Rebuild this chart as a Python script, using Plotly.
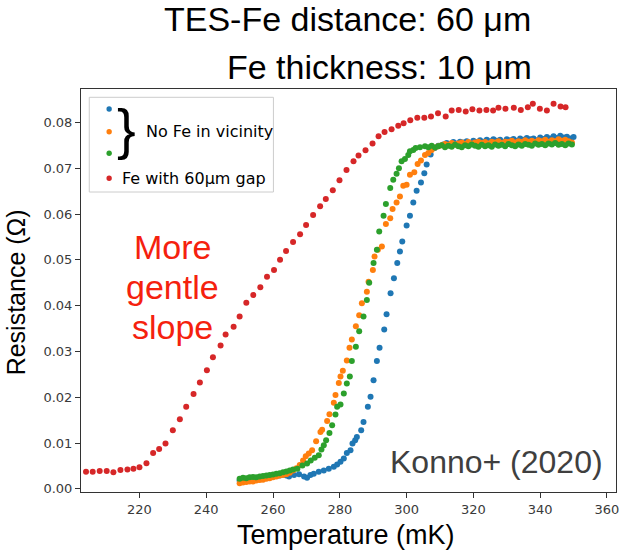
import plotly.graph_objects as go

# ---------------- data (Temperature mK, Resistance Ohm) ----------------
blue_pts = [
    (250, 0.0018), (251, 0.0019), (252, 0.0021), (253, 0.0020), (254, 0.0022), (255, 0.0023),
    (256, 0.0022), (257, 0.0024), (258, 0.0025), (259, 0.0026), (260, 0.0027), (261, 0.0028),
    (262, 0.0029), (263, 0.0030), (264, 0.0029), (264.8, 0.0027), (266.3, 0.0030), (267.8, 0.0032),
    (269.3, 0.0027), (270.2, 0.0024), (271.2, 0.0030), (272.2, 0.0033), (273.7, 0.0037), (275.2, 0.0040),
    (276.7, 0.0044), (278.2, 0.0048), (279.2, 0.0053), (280.2, 0.0059), (281.2, 0.0066), (282.1, 0.0078),
    (283.2, 0.0084), (283.8, 0.0099), (284.6, 0.0106), (285.1, 0.0113), (286.4, 0.0128), (287.1, 0.0146),
    (288.4, 0.0179), (289.2, 0.0201), (290.1, 0.0237), (291.1, 0.0279), (291.9, 0.0308), (293.3, 0.0348),
    (294.0, 0.0381), (295.2, 0.0427), (296.2, 0.0460), (297.2, 0.0493), (298.0, 0.0518), (298.7, 0.0540),
    (300.0, 0.0575), (301.0, 0.0596), (302.0, 0.0625), (303.0, 0.0651), (304.3, 0.0669), (305.3, 0.0689),
    (306.0, 0.0708), (307.2, 0.0730), (308.4, 0.0744), (309.5, 0.0749),
    (311, 0.0752), (312, 0.0755), (313, 0.0753), (314, 0.0757), (315, 0.0754), (316, 0.0758),
    (317, 0.0756), (318, 0.0759), (319, 0.0755), (320, 0.0760), (321, 0.0757), (322, 0.0761),
    (323, 0.0758), (324, 0.0762), (325, 0.0759), (326, 0.0763), (327, 0.0760), (328, 0.0762),
    (329, 0.0758), (330, 0.0763), (331, 0.0761), (332, 0.0764), (333, 0.0760), (334, 0.0765),
    (335, 0.0762), (336, 0.0766), (337, 0.0763), (338, 0.0765), (339, 0.0761), (340, 0.0767),
    (341, 0.0764), (342, 0.0768), (343, 0.0765), (344, 0.0770), (345, 0.0766), (346, 0.0771),
    (347, 0.0767), (348, 0.0769), (349, 0.0765), (350, 0.0768),
]

orange_pts = [
    (250, 0.0012), (251, 0.0014), (252, 0.0015), (253, 0.0016), (254, 0.0016), (255, 0.0018),
    (256, 0.0019), (257, 0.0020), (258, 0.0022), (259, 0.0023), (260, 0.0025), (261, 0.0027),
    (262, 0.0029), (263, 0.0030), (264, 0.0032), (265, 0.0035), (266, 0.0040), (267, 0.0045),
    (268, 0.0052), (269, 0.0062), (269.8, 0.0071), (270.7, 0.0077), (271.7, 0.0084), (272.9, 0.0104),
    (274.2, 0.0124), (274.7, 0.0129), (276.2, 0.0148), (276.9, 0.0163), (278.2, 0.0188), (278.7, 0.0205),
    (279.7, 0.0231), (280.2, 0.0245), (280.9, 0.0258), (282.1, 0.0280), (282.9, 0.0308), (283.6, 0.0326),
    (284.8, 0.0355), (285.8, 0.0379), (286.6, 0.0405), (288.1, 0.0430), (288.6, 0.0452), (289.9, 0.0478),
    (290.4, 0.0507), (291.4, 0.0522), (292.6, 0.0529), (293.8, 0.0578), (295.1, 0.0591), (295.8, 0.0611),
    (297.0, 0.0625), (298.0, 0.0638), (299.0, 0.0662), (300.0, 0.0664), (301.0, 0.0686), (302.3, 0.0691),
    (303.3, 0.0709), (304.3, 0.0717), (305.5, 0.0729), (306.5, 0.0733), (307.5, 0.0740), (308.5, 0.0745),
    (309.5, 0.0748),
    (310.5, 0.0750), (311.5, 0.0753), (312.5, 0.0751), (313.5, 0.0755), (314.5, 0.0752), (315.5, 0.0754),
    (316.5, 0.0756), (317.5, 0.0753), (318.5, 0.0757), (319.5, 0.0754), (320.5, 0.0756), (321.5, 0.0758),
    (322.5, 0.0755), (323.5, 0.0757), (324.5, 0.0754), (325.5, 0.0758), (326.5, 0.0756), (327.5, 0.0759),
    (328.5, 0.0755), (329.5, 0.0758), (330.5, 0.0757), (331.5, 0.0760), (332.5, 0.0756), (333.5, 0.0759),
    (334.5, 0.0757), (335.5, 0.0761), (336.5, 0.0758), (337.5, 0.0760), (338.5, 0.0757), (339.5, 0.0761),
    (340.5, 0.0759), (341.5, 0.0762), (342.5, 0.0758), (343.5, 0.0761), (344.5, 0.0759), (345.5, 0.0763),
    (346.5, 0.0760), (347.5, 0.0762), (348.5, 0.0759), (349.5, 0.0756),
]

green_pts = [
    (250, 0.0022), (251, 0.0024), (252, 0.0023), (253, 0.0025), (254, 0.0026), (255, 0.0025),
    (256, 0.0027), (257, 0.0028), (258, 0.0029), (259, 0.0030), (260, 0.0031), (261, 0.0033),
    (262, 0.0034), (263, 0.0036), (264, 0.0038), (265, 0.0040), (266, 0.0042),
    (267.3, 0.0044), (268.8, 0.0051), (270.2, 0.0055), (271.3, 0.0062), (272.5, 0.0068), (273.7, 0.0073),
    (274.5, 0.0086), (275.2, 0.0095), (275.9, 0.0106), (276.9, 0.0122), (277.7, 0.0139), (278.7, 0.0162),
    (279.2, 0.0179), (280.2, 0.0184), (281.2, 0.0208), (282.1, 0.0230), (283.0, 0.0245), (283.6, 0.0279),
    (284.8, 0.0310), (285.8, 0.0344), (287.1, 0.0376), (288.1, 0.0412), (288.8, 0.0450), (290.1, 0.0493),
    (291.1, 0.0522), (291.8, 0.0562), (293.1, 0.0596), (293.8, 0.0622), (295.1, 0.0657), (296.0, 0.0675),
    (297.0, 0.0688), (297.7, 0.0700), (298.5, 0.0715), (299.5, 0.0720), (300.5, 0.0729), (301.0, 0.0737),
    (302.0, 0.0740), (302.7, 0.0744), (304.0, 0.0746), (305.5, 0.0748),
    (306.5, 0.0746), (307.5, 0.0749), (308.5, 0.0745), (309.5, 0.0748), (310.5, 0.0750), (311.5, 0.0746),
    (312.5, 0.0749), (313.5, 0.0747), (314.5, 0.0751), (315.5, 0.0748), (316.5, 0.0746), (317.5, 0.0750),
    (318.5, 0.0748), (319.5, 0.0752), (320.5, 0.0749), (321.5, 0.0747), (322.5, 0.0751), (323.5, 0.0748),
    (324.5, 0.0750), (325.5, 0.0747), (326.5, 0.0752), (327.5, 0.0749), (328.5, 0.0751), (329.5, 0.0748),
    (330.5, 0.0753), (331.5, 0.0750), (332.5, 0.0748), (333.5, 0.0752), (334.5, 0.0749), (335.5, 0.0753),
    (336.5, 0.0751), (337.5, 0.0749), (338.5, 0.0754), (339.5, 0.0751), (340.5, 0.0753), (341.5, 0.0750),
    (342.5, 0.0754), (343.5, 0.0752), (344.5, 0.0755), (345.5, 0.0751), (346.5, 0.0753), (347.5, 0.0750),
    (348.5, 0.0754), (349.5, 0.0752),
]

red_pts = [
    (204.0, 0.0037), (206.0, 0.0037), (208.1, 0.0039), (210.2, 0.0039), (212.2, 0.0036), (214.3, 0.0041),
    (216.4, 0.0042), (218.2, 0.0044), (220.0, 0.0047), (222.1, 0.0056), (224.1, 0.0078), (225.9, 0.0087),
    (227.8, 0.0099), (230.0, 0.0128), (232.1, 0.0152), (234.0, 0.0179), (236.2, 0.0207), (238.1, 0.0232),
    (240.2, 0.0259), (242.0, 0.0287), (244.3, 0.0313), (245.8, 0.0337), (248.2, 0.0354), (250.0, 0.0376),
    (252.0, 0.0406), (254.1, 0.0423), (256.2, 0.0440), (258.2, 0.0463), (260.3, 0.0478), (262.1, 0.0500),
    (263.9, 0.0519), (266.0, 0.0539), (268.1, 0.0556), (269.9, 0.0576), (272.0, 0.0598), (274.1, 0.0617),
    (275.8, 0.0633), (277.9, 0.0652), (279.9, 0.0674), (282.0, 0.0696), (284.1, 0.0715), (285.6, 0.0728),
    (287.7, 0.0739), (289.8, 0.0754), (291.6, 0.0770), (293.4, 0.0779), (295.5, 0.0785), (297.5, 0.0793),
    (299.1, 0.0798), (301.1, 0.0805), (303.2, 0.0810), (305.3, 0.0810), (307.3, 0.0813), (309.4, 0.0820),
    (311.7, 0.0813), (313.5, 0.0826), (315.6, 0.0827), (317.7, 0.0824), (319.7, 0.0829), (321.8, 0.0826),
    (323.9, 0.0827), (325.9, 0.0826), (327.5, 0.0832), (329.6, 0.0830), (332.1, 0.0832), (334.2, 0.0827),
    (336.3, 0.0833), (337.8, 0.0841), (339.9, 0.0830), (342.0, 0.0826), (344.0, 0.0841), (346.1, 0.0835),
    (347.6, 0.0833),
]

series = [
    ("blue", blue_pts, "#1f77b4"),
    ("orange", orange_pts, "#ff7f0e"),
    ("green", green_pts, "#2ca02c"),
    ("Fe with 60μm gap", red_pts, "#d62728"),
]

x_ticks = [220, 240, 260, 280, 300, 320, 340, 360]
y_ticks = [0.00, 0.01, 0.02, 0.03, 0.04, 0.05, 0.06, 0.07, 0.08]

# ---------------- figure ----------------
W, H = 630, 550
L, R, T, B = 81, 619, 89, 492
PW, PH = R - L, B - T


def px(x):
    return (x - L) / PW


def py(y):
    return (B - y) / PH


fig = go.Figure()
for name, pts, col in series:
    fig.add_trace(go.Scatter(
        x=[p[0] for p in pts], y=[p[1] for p in pts], mode="markers", name=name,
        marker=dict(size=6, color=col, line=dict(width=0)), showlegend=False,
    ))

tickfont = dict(family="DejaVu Sans", size=13, color="#3a3a3a")
fig.update_layout(
    width=W, height=H, margin=dict(l=L, r=W - R, t=T, b=H - B),
    paper_bgcolor="white", plot_bgcolor="white", showlegend=False,
    xaxis=dict(range=[202.5, 362.7], tickvals=x_ticks, ticktext=[str(v) for v in x_ticks],
               showgrid=False, zeroline=False, showline=True, mirror=True, linecolor="#333",
               linewidth=1, ticks="outside", ticklen=5, tickcolor="#333", tickfont=tickfont),
    yaxis=dict(range=[-0.0007, 0.0873], tickvals=y_ticks, ticktext=[f"{v:.2f}" for v in y_ticks],
               showgrid=False, zeroline=False, showline=True, mirror=True, linecolor="#333",
               linewidth=1, ticks="outside", ticklen=5, tickcolor="#333", tickfont=tickfont),
)

ann = []


def add_text(text, x, y, size, color="black", family="Liberation Sans", xanchor="center", angle=0):
    ann.append(dict(text=text, x=px(x), y=py(y), xref="paper", yref="paper", showarrow=False,
                    xanchor=xanchor, yanchor="middle", textangle=angle,
                    font=dict(family=family, size=size, color=color)))


add_text("TES-Fe distance: 60 μm", 349, 19, 34)
add_text("Fe thickness: 10 μm", 381, 67, 34)
add_text("Temperature (mK)", 347, 535, 27)
add_text("Resistance (Ω)", 16, 292, 25, angle=-90)
add_text("More", 173, 247, 34, color="#f5210e")
add_text("gentle", 173, 287, 34, color="#f5210e")
add_text("slope", 173, 327, 34, color="#f5210e")
add_text("Konno+ (2020)", 608, 462, 32, color="#3f3f3f", xanchor="right")

# custom legend
add_text("}", 127, 128, 56, family="Liberation Sans")
add_text("No Fe in vicinity", 144, 131.7, 16, family="DejaVu Sans", xanchor="left")
add_text("Fe with 60μm gap", 120, 178.3, 16, family="DejaVu Sans", xanchor="left")

shapes = [dict(type="rect", xref="paper", yref="paper", x0=px(89.3), x1=px(274.5), y0=py(192), y1=py(97.3),
               line=dict(color="#cccccc", width=1), fillcolor="rgba(255,255,255,0.8)", layer="above")]
for (_, _, col), yy in zip(series, [109, 131.7, 153.3, 178.3]):
    r = 2.7
    shapes.append(dict(type="circle", xref="paper", yref="paper", x0=px(109.3 - r), x1=px(109.3 + r),
                       y0=py(yy + r), y1=py(yy - r), fillcolor=col, line=dict(width=0), layer="above"))

fig.update_layout(annotations=ann, shapes=shapes)
fig.write_html("out.html")
